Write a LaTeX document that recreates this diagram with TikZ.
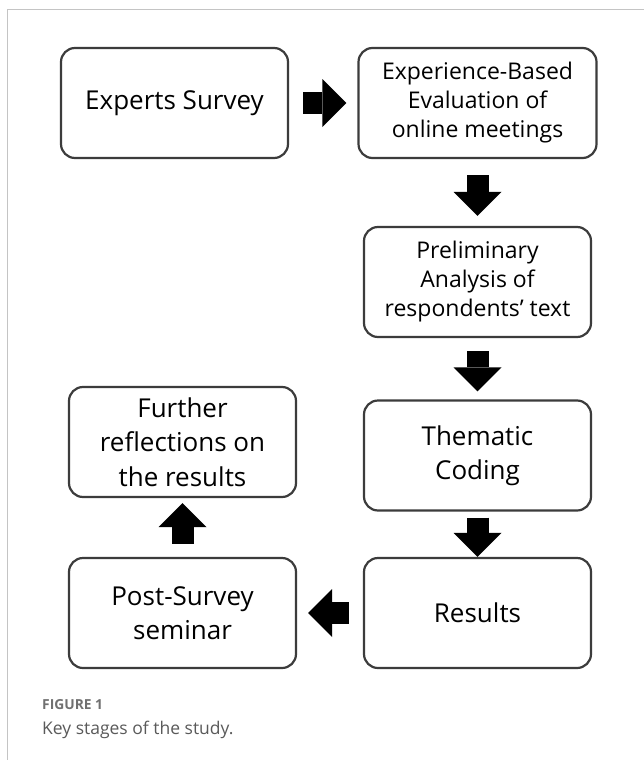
\documentclass[tikz,border=0pt]{standalone}
\usepackage{fontspec}
\setmainfont{Open Sans}
\usetikzlibrary{positioning,arrows.meta}
\definecolor{boxline}{HTML}{3C3C3C}
\definecolor{framegray}{HTML}{C4C4C4}
\definecolor{captiongray}{HTML}{707070}

\begin{document}
\begin{tikzpicture}[x=1pt, y=-1pt, on grid,
    stage/.style={draw=boxline, line width=2.2pt, rounded corners=14pt, fill=white,
      minimum width=227pt, minimum height=110pt, align=center,
      font=\fontsize{26}{34.5}\selectfont},
    smalltext/.style={font=\fontsize{23}{29}\selectfont},
    blockarrow/.style={line width=22pt, -{Triangle[length=24pt, width=48pt, line width=0pt]}}]
  \useasboundingbox[fill=white] (0,0) rectangle (644,760);
  \draw[framegray, line width=1.2pt] (7.5,760) -- (7.5,9.5) -- (644,9.5);
  % stages of the study
  \node[stage] (survey) at (174.5,103) {Experts Survey};
  \node[stage, smalltext, minimum width=238pt, right=303pt of survey] (evaluation) {Experience-Based\\Evaluation of\\online meetings};
  \node[stage, smalltext, below=179pt of evaluation] (prelim) {Preliminary\\Analysis of\\respondents' text};
  \node[stage, below=173.5pt of prelim] (coding) {Thematic\\Coding};
  \node[stage, below=157.5pt of coding] (results) {Results};
  \node[stage, left=295pt of results] (seminar) {Post-Survey\\seminar};
  \node[stage, above=171pt of seminar] (reflect) {Further\\reflections on\\the results};
  % block arrows
  \draw[blockarrow, shorten <=14pt, shorten >=11pt] (survey) -- (evaluation);
  \draw[blockarrow, shorten <=16pt, shorten >=10pt] (evaluation) -- (prelim);
  \draw[blockarrow, shorten <=13pt, shorten >=8pt] (prelim) -- (coding);
  \draw[blockarrow, shorten <=6pt] (coding) -- (results);
  \draw[blockarrow, shorten <=14pt, shorten >=11pt] (results) -- (seminar);
  \draw[blockarrow, shorten <=13pt, shorten >=5pt] (seminar) -- (reflect);
  % caption
  \node[anchor=base west, inner sep=0pt, text=captiongray,
    font=\fontsize{13.8}{16}\selectfont\bfseries] (figlabel) at (42,709) {FIGURE 1};
  \node[anchor=base west, inner sep=0pt, text=captiongray!80!black,
    font=\fontsize{17.5}{20}\selectfont] (figcaption) at (42,734) {Key stages of the study.};
\end{tikzpicture}
\end{document}
